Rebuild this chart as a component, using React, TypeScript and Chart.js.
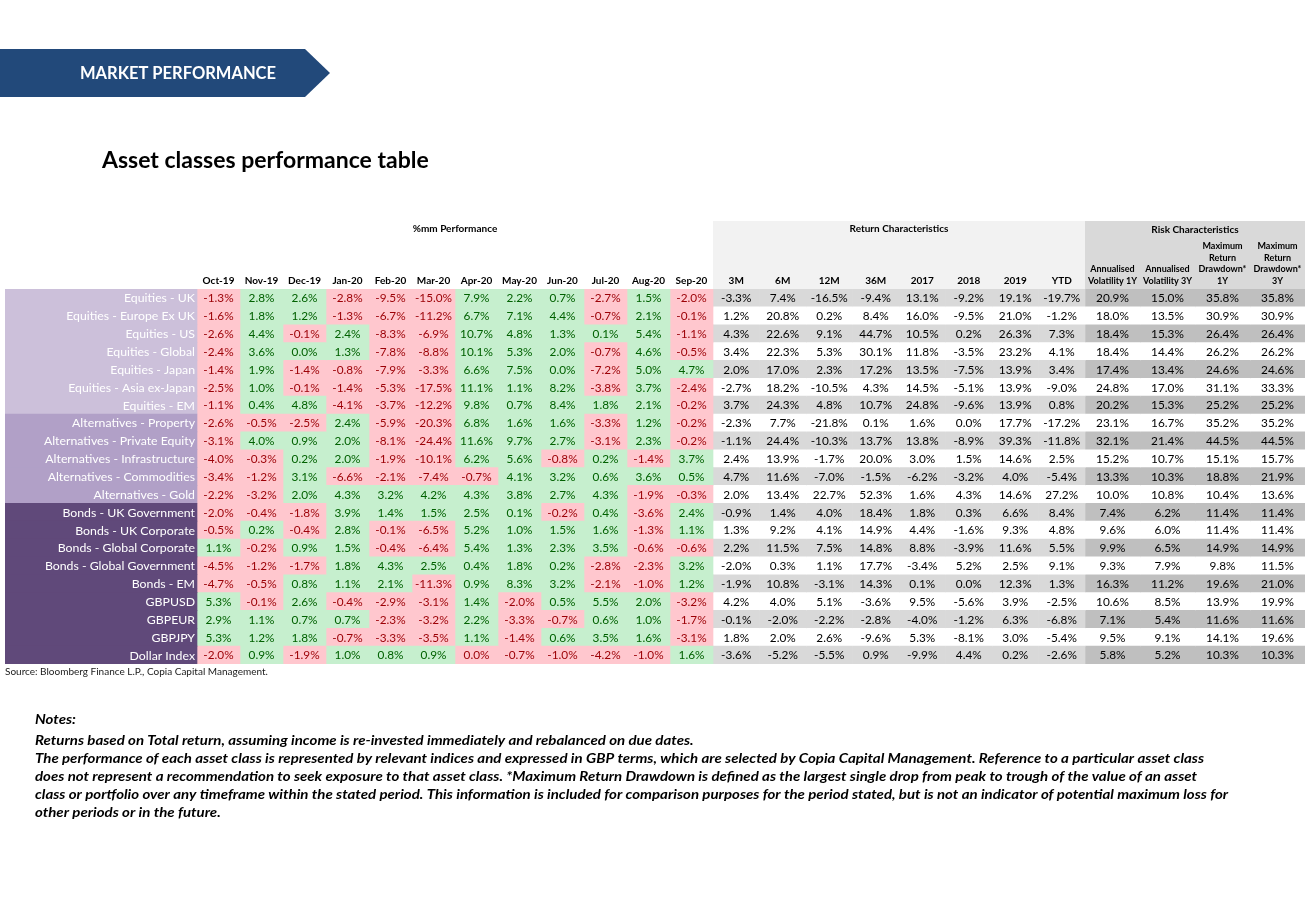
import React, { useEffect, useRef } from "react";
import { Chart, registerables } from "chart.js";

Chart.register(...registerables);

// ---------- DATA ----------
const assetNames = [
  "Equities - UK",
  "Equities - Europe Ex UK",
  "Equities - US",
  "Equities - Global",
  "Equities - Japan",
  "Equities - Asia ex-Japan",
  "Equities - EM",
  "Alternatives - Property",
  "Alternatives - Private Equity",
  "Alternatives - Infrastructure",
  "Alternatives - Commodities",
  "Alternatives - Gold",
  "Bonds - UK Government",
  "Bonds - UK Corporate",
  "Bonds - Global Corporate",
  "Bonds - Global Government",
  "Bonds - EM",
  "GBPUSD",
  "GBPEUR",
  "GBPJPY",
  "Dollar Index",
];

// 0 = equities, 1 = alternatives, 2 = bonds & currencies
const assetGroup = [0, 0, 0, 0, 0, 0, 0, 1, 1, 1, 1, 1, 2, 2, 2, 2, 2, 2, 2, 2, 2];

const monthLabels = ["Oct-19", "Nov-19", "Dec-19", "Jan-20", "Feb-20", "Mar-20", "Apr-20", "May-20", "Jun-20", "Jul-20", "Aug-20", "Sep-20"];

const monthlyReturns = [
  [-1.3, 2.8, 2.6, -2.8, -9.5, -15.0, 7.9, 2.2, 0.7, -2.7, 1.5, -2.0],
  [-1.6, 1.8, 1.2, -1.3, -6.7, -11.2, 6.7, 7.1, 4.4, -0.7, 2.1, -0.1],
  [-2.6, 4.4, -0.1, 2.4, -8.3, -6.9, 10.7, 4.8, 1.3, 0.1, 5.4, -1.1],
  [-2.4, 3.6, 0.0, 1.3, -7.8, -8.8, 10.1, 5.3, 2.0, -0.7, 4.6, -0.5],
  [-1.4, 1.9, -1.4, -0.8, -7.9, -3.3, 6.6, 7.5, 0.0, -7.2, 5.0, 4.7],
  [-2.5, 1.0, -0.1, -1.4, -5.3, -17.5, 11.1, 1.1, 8.2, -3.8, 3.7, -2.4],
  [-1.1, 0.4, 4.8, -4.1, -3.7, -12.2, 9.8, 0.7, 8.4, 1.8, 2.1, -0.2],
  [-2.6, -0.5, -2.5, 2.4, -5.9, -20.3, 6.8, 1.6, 1.6, -3.3, 1.2, -0.2],
  [-3.1, 4.0, 0.9, 2.0, -8.1, -24.4, 11.6, 9.7, 2.7, -3.1, 2.3, -0.2],
  [-4.0, -0.3, 0.2, 2.0, -1.9, -10.1, 6.2, 5.6, -0.8, 0.2, -1.4, 3.7],
  [-3.4, -1.2, 3.1, -6.6, -2.1, -7.4, -0.7, 4.1, 3.2, 0.6, 3.6, 0.5],
  [-2.2, -3.2, 2.0, 4.3, 3.2, 4.2, 4.3, 3.8, 2.7, 4.3, -1.9, -0.3],
  [-2.0, -0.4, -1.8, 3.9, 1.4, 1.5, 2.5, 0.1, -0.2, 0.4, -3.6, 2.4],
  [-0.5, 0.2, -0.4, 2.8, -0.1, -6.5, 5.2, 1.0, 1.5, 1.6, -1.3, 1.1],
  [1.1, -0.2, 0.9, 1.5, -0.4, -6.4, 5.4, 1.3, 2.3, 3.5, -0.6, -0.6],
  [-4.5, -1.2, -1.7, 1.8, 4.3, 2.5, 0.4, 1.8, 0.2, -2.8, -2.3, 3.2],
  [-4.7, -0.5, 0.8, 1.1, 2.1, -11.3, 0.9, 8.3, 3.2, -2.1, -1.0, 1.2],
  [5.3, -0.1, 2.6, -0.4, -2.9, -3.1, 1.4, -2.0, 0.5, 5.5, 2.0, -3.2],
  [2.9, 1.1, 0.7, 0.7, -2.3, -3.2, 2.2, -3.3, -0.7, 0.6, 1.0, -1.7],
  [5.3, 1.2, 1.8, -0.7, -3.3, -3.5, 1.1, -1.4, 0.6, 3.5, 1.6, -3.1],
  [-2.0, 0.9, -1.9, 1.0, 0.8, 0.9, -0.04, -0.7, -1.0, -4.2, -1.0, 1.6],
];

const returnLabels = ["3M", "6M", "12M", "36M", "2017", "2018", "2019", "YTD"];

const returnStats = [
  [-3.3, 7.4, -16.5, -9.4, 13.1, -9.2, 19.1, -19.7],
  [1.2, 20.8, 0.2, 8.4, 16.0, -9.5, 21.0, -1.2],
  [4.3, 22.6, 9.1, 44.7, 10.5, 0.2, 26.3, 7.3],
  [3.4, 22.3, 5.3, 30.1, 11.8, -3.5, 23.2, 4.1],
  [2.0, 17.0, 2.3, 17.2, 13.5, -7.5, 13.9, 3.4],
  [-2.7, 18.2, -10.5, 4.3, 14.5, -5.1, 13.9, -9.0],
  [3.7, 24.3, 4.8, 10.7, 24.8, -9.6, 13.9, 0.8],
  [-2.3, 7.7, -21.8, 0.1, 1.6, 0.0, 17.7, -17.2],
  [-1.1, 24.4, -10.3, 13.7, 13.8, -8.9, 39.3, -11.8],
  [2.4, 13.9, -1.7, 20.0, 3.0, 1.5, 14.6, 2.5],
  [4.7, 11.6, -7.0, -1.5, -6.2, -3.2, 4.0, -5.4],
  [2.0, 13.4, 22.7, 52.3, 1.6, 4.3, 14.6, 27.2],
  [-0.9, 1.4, 4.0, 18.4, 1.8, 0.3, 6.6, 8.4],
  [1.3, 9.2, 4.1, 14.9, 4.4, -1.6, 9.3, 4.8],
  [2.2, 11.5, 7.5, 14.8, 8.8, -3.9, 11.6, 5.5],
  [-2.0, 0.3, 1.1, 17.7, -3.4, 5.2, 2.5, 9.1],
  [-1.9, 10.8, -3.1, 14.3, 0.1, 0.0, 12.3, 1.3],
  [4.2, 4.0, 5.1, -3.6, 9.5, -5.6, 3.9, -2.5],
  [-0.1, -2.0, -2.2, -2.8, -4.0, -1.2, 6.3, -6.8],
  [1.8, 2.0, 2.6, -9.6, 5.3, -8.1, 3.0, -5.4],
  [-3.6, -5.2, -5.5, 0.9, -9.9, 4.4, 0.2, -2.6],
];

const riskLabels = [
  ["Annualised", "Volatility 1Y"],
  ["Annualised", "Volatility 3Y"],
  ["Maximum", "Return", "Drawdown*", "1Y"],
  ["Maximum", "Return", "Drawdown*", "3Y"],
];

const riskStats = [
  [20.9, 15.0, 35.8, 35.8],
  [18.0, 13.5, 30.9, 30.9],
  [18.4, 15.3, 26.4, 26.4],
  [18.4, 14.4, 26.2, 26.2],
  [17.4, 13.4, 24.6, 24.6],
  [24.8, 17.0, 31.1, 33.3],
  [20.2, 15.3, 25.2, 25.2],
  [23.1, 16.7, 35.2, 35.2],
  [32.1, 21.4, 44.5, 44.5],
  [15.2, 10.7, 15.1, 15.7],
  [13.3, 10.3, 18.8, 21.9],
  [10.0, 10.8, 10.4, 13.6],
  [7.4, 6.2, 11.4, 11.4],
  [9.6, 6.0, 11.4, 11.4],
  [9.9, 6.5, 14.9, 14.9],
  [9.3, 7.9, 9.8, 11.5],
  [16.3, 11.2, 19.6, 21.0],
  [10.6, 8.5, 13.9, 19.9],
  [7.1, 5.4, 11.6, 11.6],
  [9.5, 9.1, 14.1, 19.6],
  [5.8, 5.2, 10.3, 10.3],
];

const notesLines = [
  "Returns based on Total return, assuming income is re-invested immediately and rebalanced on due dates.",
  "The performance of each asset class is represented by relevant indices and expressed in GBP terms, which are selected by Copia Capital Management. Reference to a particular asset class",
  "does not represent a recommendation to seek exposure to that asset class. *Maximum Return Drawdown is defined as the largest single drop from peak to trough of the value of an asset",
  "class or portfolio over any timeframe within the stated period. This information is included for comparison purposes for the period stated, but is not an indicator of potential maximum loss for",
  "other periods or in the future.",
];

// ---------- LAYOUT / STYLE ----------
const FONT = "Lato, 'Noto Sans', sans-serif";
const LABEL_W = 192;
const MONTH_W = 43;
const RET_W = 46.5;
const RISK_W = 55;

const GROUP_BG = ["#CCC0DA", "#B1A0C7", "#60497A"];
const NEG_BG = "#FFC7CE";
const NEG_TX = "#9C0006";
const POS_BG = "#C6EFCE";
const POS_TX = "#006100";

type Col = { kind: "label" | "month" | "ret" | "risk"; idx: number; x0: number; x1: number };

function buildColumns(): Col[] {
  const cols: Col[] = [];
  let x = 0;
  cols.push({ kind: "label", idx: 0, x0: x, x1: x + LABEL_W });
  x += LABEL_W;
  monthLabels.forEach((_, i) => {
    cols.push({ kind: "month", idx: i, x0: x, x1: x + MONTH_W });
    x += MONTH_W;
  });
  returnLabels.forEach((_, i) => {
    cols.push({ kind: "ret", idx: i, x0: x, x1: x + RET_W });
    x += RET_W;
  });
  riskLabels.forEach((_, i) => {
    cols.push({ kind: "risk", idx: i, x0: x, x1: x + RISK_W });
    x += RISK_W;
  });
  return cols;
}

const fmt = (v: number) => (Math.round(v * 10) / 10).toFixed(1) + "%";

function cellValue(col: Col, r: number): number {
  if (col.kind === "month") return monthlyReturns[r][col.idx];
  if (col.kind === "ret") return returnStats[r][col.idx];
  return riskStats[r][col.idx];
}

function cellBg(col: Col, r: number): string {
  if (col.kind === "label") return GROUP_BG[assetGroup[r]];
  if (col.kind === "month") return monthlyReturns[r][col.idx] < 0 ? NEG_BG : POS_BG;
  if (col.kind === "ret") return r % 2 === 0 ? "#D9D9D9" : "#FFFFFF";
  return r % 2 === 0 ? "#BFBFBF" : "#FFFFFF";
}

export default function App() {
  const ref = useRef<HTMLCanvasElement | null>(null);

  useEffect(() => {
    if (!ref.current) return;
    const columns = buildColumns();
    const total = columns[columns.length - 1].x1;

    const datasets = columns.map((col) => ({
      label: col.kind + col.idx,
      data: assetNames.map(() => [col.x0, col.x1] as [number, number]),
      backgroundColor: assetNames.map((_, r) => cellBg(col, r)),
      borderWidth: 0,
      borderSkipped: false,
      grouped: false,
      barPercentage: 1,
      categoryPercentage: 1,
    }));

    const tablePlugin = {
      id: "tablePlugin",
      beforeDraw(chart: any) {
        const ctx = chart.ctx;
        ctx.save();
        ctx.fillStyle = "#FFFFFF";
        ctx.fillRect(0, 0, chart.width, chart.height);
        ctx.restore();
      },
      afterDatasetsDraw(chart: any) {
        const ctx: CanvasRenderingContext2D = chart.ctx;
        const xs = chart.scales.x;
        const area = chart.chartArea;
        ctx.save();

        // Banner
        ctx.fillStyle = "#22497A";
        ctx.beginPath();
        ctx.moveTo(0, 49);
        ctx.lineTo(305, 49);
        ctx.lineTo(330, 73);
        ctx.lineTo(305, 97);
        ctx.lineTo(0, 97);
        ctx.closePath();
        ctx.fill();
        ctx.fillStyle = "#FFFFFF";
        ctx.font = `bold 16.5px ${FONT}`;
        ctx.textAlign = "left";
        ctx.textBaseline = "middle";
        ctx.fillText("MARKET PERFORMANCE", 80, 74, 197);

        // Title
        ctx.fillStyle = "#000000";
        ctx.font = `bold 23px ${FONT}`;
        ctx.textBaseline = "alphabetic";
        ctx.fillText("Asset classes performance table", 102, 168, 327);

        // Header backgrounds
        const monthStart = xs.getPixelForValue(columns[1].x0);
        const retStart = xs.getPixelForValue(columns[13].x0);
        const riskStart = xs.getPixelForValue(columns[21].x0);
        const end = xs.getPixelForValue(total);
        const hTop = 221;
        ctx.fillStyle = "#F2F2F2";
        ctx.fillRect(retStart, hTop, riskStart - retStart, area.top - hTop);
        ctx.fillStyle = "#D9D9D9";
        ctx.fillRect(riskStart, hTop, end - riskStart, area.top - hTop);

        // Section titles
        ctx.fillStyle = "#000000";
        ctx.font = `bold 10px ${FONT}`;
        ctx.textAlign = "center";
        ctx.textBaseline = "middle";
        ctx.fillText("%mm Performance", (monthStart + retStart) / 2, 229);
        ctx.fillText("Return Characteristics", (retStart + riskStart) / 2, 229);
        ctx.fillText("Risk Characteristics", (riskStart + end) / 2, 230);

        // Column headers
        const hy = area.top - 8;
        columns.forEach((col) => {
          const cx = xs.getPixelForValue((col.x0 + col.x1) / 2);
          ctx.font = `bold 10px ${FONT}`;
          if (col.kind === "month") ctx.fillText(monthLabels[col.idx], cx, hy);
          if (col.kind === "ret") ctx.fillText(returnLabels[col.idx], cx, hy);
          if (col.kind === "risk") {
            const lines = riskLabels[col.idx];
            ctx.font = `bold 9px ${FONT}`;
            lines.forEach((ln, k) => {
              ctx.fillText(ln, cx, hy - (lines.length - 1 - k) * 11.7, RISK_W - 2);
            });
          }
        });

        // Cell texts
        chart.data.datasets.forEach((_: any, di: number) => {
          const col = columns[di];
          const meta = chart.getDatasetMeta(di);
          meta.data.forEach((el: any, r: number) => {
            const p = el.getProps(["x", "y", "base"], true);
            const left = Math.min(p.x, p.base);
            const right = Math.max(p.x, p.base);
            if (col.kind === "label") {
              ctx.font = `12.3px ${FONT}`;
              ctx.fillStyle = "#FFFFFF";
              ctx.textAlign = "right";
              ctx.fillText(assetNames[r], right - 2, p.y + 0.5);
              return;
            }
            const v = cellValue(col, r);
            ctx.font = `11.8px ${FONT}`;
            ctx.textAlign = "center";
            if (col.kind === "month") ctx.fillStyle = v < 0 ? NEG_TX : POS_TX;
            else ctx.fillStyle = "#000000";
            ctx.fillText(fmt(v), (left + right) / 2, p.y + 0.5);
          });
        });

        // Source
        ctx.fillStyle = "#1a1a1a";
        ctx.font = `10px ${FONT}`;
        ctx.textAlign = "left";
        ctx.textBaseline = "middle";
        ctx.fillText("Source: Bloomberg Finance L.P., Copia Capital Management.", 5, area.bottom + 8, 266);

        // Notes
        ctx.font = `italic bold 13px ${FONT}`;
        ctx.fillStyle = "#000000";
        const sx = 1169 / ctx.measureText(notesLines[1]).width;
        const drawNote = (t: string, y: number) => {
          ctx.save();
          ctx.translate(35, y);
          ctx.scale(sx, 1);
          ctx.fillText(t, 0, 0);
          ctx.restore();
        };
        drawNote("Notes:", 720);
        notesLines.forEach((ln, i) => drawNote(ln, 741 + i * 18));

        ctx.restore();
      },
    };

    const chart = new Chart(ref.current, {
      type: "bar",
      data: { labels: assetNames, datasets: datasets as any },
      options: {
        indexAxis: "y",
        animation: false,
        responsive: false,
        maintainAspectRatio: false,
        events: [],
        layout: { padding: { left: 5, right: 7, top: 289, bottom: 241 } },
        plugins: { legend: { display: false }, tooltip: { enabled: false }, title: { display: false } },
        scales: {
          x: { type: "linear", min: 0, max: total, display: false, grid: { display: false } },
          y: { type: "category", display: false, offset: true, grid: { display: false } },
        },
      } as any,
      plugins: [tablePlugin],
    });
    return () => chart.destroy();
  }, []);

  return (
    <div style={{ position: "absolute", left: 0, top: 0, width: 1312, height: 905, background: "#fff" }}>
      <canvas ref={ref} width={1312} height={905} style={{ display: "block" }} />
    </div>
  );
}
